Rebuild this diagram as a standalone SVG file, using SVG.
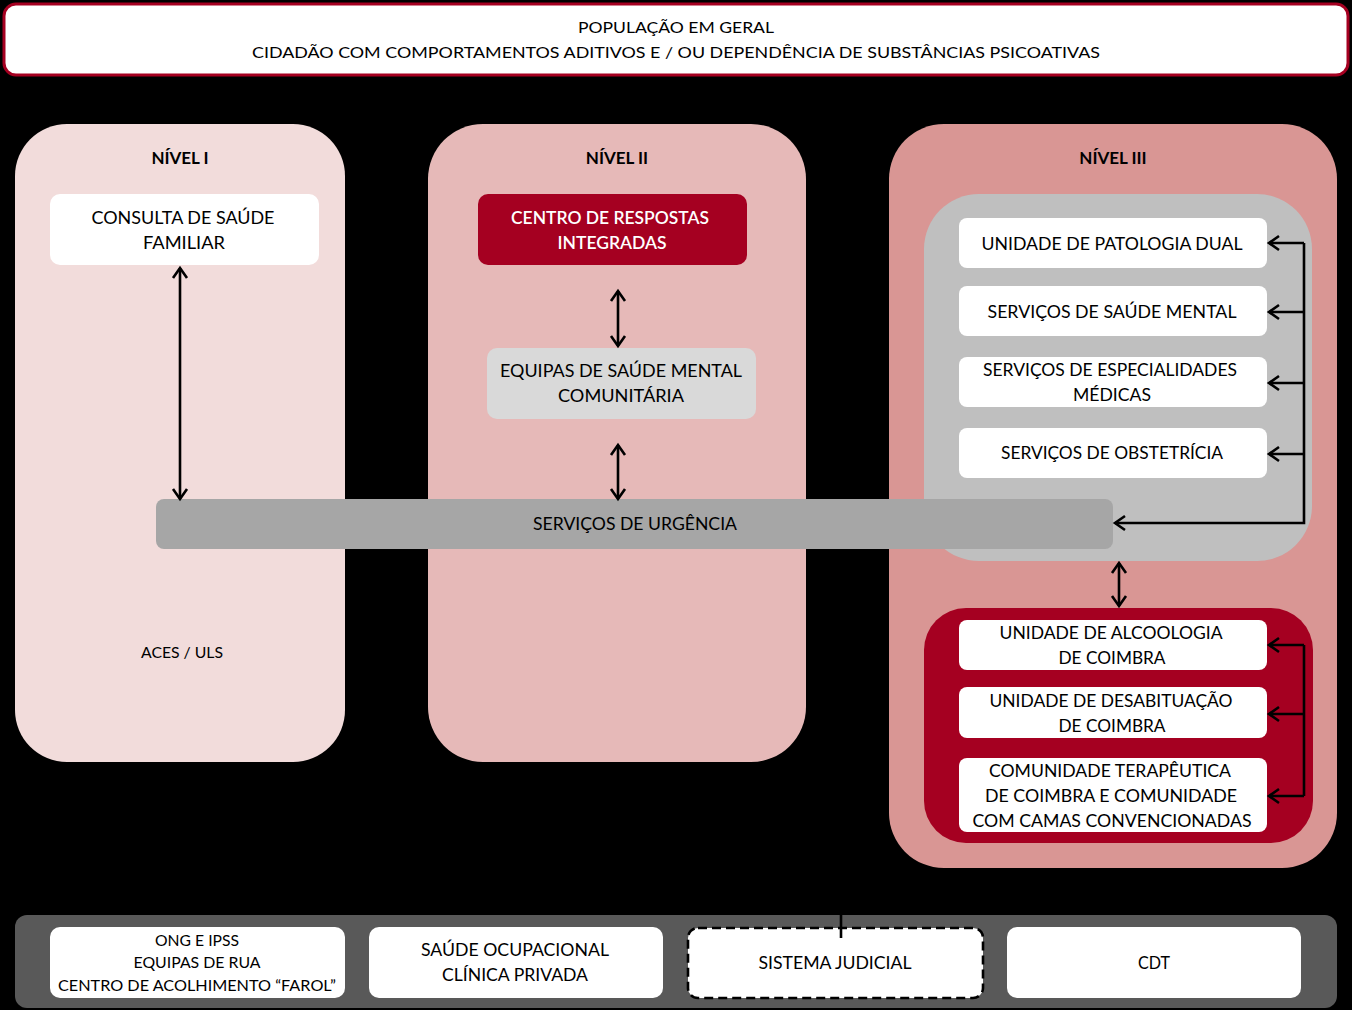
<svg xmlns="http://www.w3.org/2000/svg" width="1352" height="1010" viewBox="0 0 1352 1010">
<defs>
<marker id="ah" markerUnits="userSpaceOnUse" markerWidth="20" markerHeight="20" viewBox="-12 -10 14 20" refX="0" refY="0" orient="auto-start-reverse">
<path d="M-10,-7 L0,0 L-10,7" fill="none" stroke="#000" stroke-width="2.6"/>
</marker>
</defs>
<style>
text{font-family:Lato,"Open Sans","Liberation Sans",sans-serif;font-size:17.5px;fill:#000;text-anchor:middle}
.t{font-weight:bold;font-size:17px}
.w{fill:#fff;font-weight:600}
.s{font-size:16px}
.box{fill:#fff}
.ln{fill:none;stroke:#000;stroke-width:2.6}
.ar{fill:none;stroke:#000;stroke-width:2.6;marker-end:url(#ah)}
.da{fill:none;stroke:#000;stroke-width:2.6;marker-start:url(#ah);marker-end:url(#ah)}
</style>
<rect x="0" y="0" width="1352" height="1010" fill="#000"/>
<g id="populacao">
<rect x="4" y="4" width="1344" height="71" rx="12" fill="#fff" stroke="#A50021" stroke-width="3"/>
<text x="676" y="33" class="s" textLength="196" lengthAdjust="spacingAndGlyphs">POPULAÇÃO EM GERAL</text>
<text x="676" y="58" class="s" textLength="848" lengthAdjust="spacingAndGlyphs">CIDADÃO COM COMPORTAMENTOS ADITIVOS E / OU DEPENDÊNCIA DE SUBSTÂNCIAS  PSICOATIVAS</text>
</g>
<g id="nivel1">
<rect x="15" y="124" width="330" height="638" rx="52" fill="#F2DCDB"/>
<text x="180" y="164" class="t">NÍVEL I</text>
<text x="182" y="658" class="s" textLength="82" lengthAdjust="spacingAndGlyphs">ACES / ULS</text>
</g>
<g id="nivel2">
<rect x="428" y="124" width="378" height="638" rx="55" fill="#E6B9B8"/>
<text x="617" y="164" class="t">NÍVEL II</text>
</g>
<g id="nivel3">
<rect x="889" y="124" width="448" height="744" rx="55" fill="#D99694"/>
<text x="1113" y="164" class="t">NÍVEL III</text>
</g>
<g id="hospital">
<rect x="924" y="194" width="388" height="367" rx="55" fill="#BFBFBF"/>
</g>
<g id="consulta">
<rect x="50" y="194" width="269" height="71" rx="10" class="box"/>
<text x="183" y="224" textLength="183" lengthAdjust="spacingAndGlyphs">CONSULTA DE SAÚDE</text>
<text x="184" y="249" textLength="82" lengthAdjust="spacingAndGlyphs">FAMILIAR</text>
</g>
<g id="cri">
<rect x="478" y="194" width="269" height="71" rx="10" fill="#A50021"/>
<text x="610" y="224" class="w" textLength="198" lengthAdjust="spacingAndGlyphs">CENTRO DE RESPOSTAS</text>
<text x="612" y="249" class="w" textLength="109" lengthAdjust="spacingAndGlyphs">INTEGRADAS</text>
</g>
<g id="equipas">
<rect x="487" y="348" width="269" height="71" rx="10" fill="#D9D9D9"/>
<text x="621" y="377" textLength="242" lengthAdjust="spacingAndGlyphs">EQUIPAS DE SAÚDE MENTAL</text>
<text x="621" y="402" textLength="126" lengthAdjust="spacingAndGlyphs">COMUNITÁRIA</text>
</g>
<g id="urgencia">
<rect x="156" y="499" width="957" height="50" rx="8" fill="#A6A6A6"/>
<text x="635" y="530" textLength="204" lengthAdjust="spacingAndGlyphs">SERVIÇOS DE URGÊNCIA</text>
</g>
<g id="patologia">
<rect x="959" y="218" width="308" height="50" rx="8" class="box"/>
<text x="1112" y="250" textLength="261" lengthAdjust="spacingAndGlyphs">UNIDADE DE PATOLOGIA DUAL</text>
</g>
<g id="saudemental">
<rect x="959" y="286" width="308" height="50" rx="8" class="box"/>
<text x="1112" y="318" textLength="249" lengthAdjust="spacingAndGlyphs">SERVIÇOS DE SAÚDE MENTAL</text>
</g>
<g id="especialidades">
<rect x="959" y="357" width="308" height="50" rx="8" class="box"/>
<text x="1110" y="376" textLength="254" lengthAdjust="spacingAndGlyphs">SERVIÇOS DE ESPECIALIDADES</text>
<text x="1112" y="401" textLength="78" lengthAdjust="spacingAndGlyphs">MÉDICAS</text>
</g>
<g id="obstetricia">
<rect x="959" y="428" width="308" height="50" rx="8" class="box"/>
<text x="1112" y="459" textLength="222" lengthAdjust="spacingAndGlyphs">SERVIÇOS DE OBSTETRÍCIA</text>
</g>
<g id="aditivos">
<rect x="924" y="608" width="389" height="235" rx="42" fill="#A50021"/>
</g>
<g id="alcoologia">
<rect x="959" y="620" width="308" height="50" rx="8" class="box"/>
<text x="1111" y="639" textLength="223" lengthAdjust="spacingAndGlyphs">UNIDADE DE ALCOOLOGIA</text>
<text x="1112" y="664" textLength="107" lengthAdjust="spacingAndGlyphs">DE COIMBRA</text>
</g>
<g id="desabituacao">
<rect x="959" y="687" width="308" height="51" rx="8" class="box"/>
<text x="1111" y="707" textLength="243" lengthAdjust="spacingAndGlyphs">UNIDADE DE DESABITUAÇÃO</text>
<text x="1112" y="732" textLength="107" lengthAdjust="spacingAndGlyphs">DE COIMBRA</text>
</g>
<g id="comunidade">
<rect x="959" y="758" width="308" height="74" rx="8" class="box"/>
<text x="1110" y="777" textLength="242" lengthAdjust="spacingAndGlyphs">COMUNIDADE TERAPÊUTICA</text>
<text x="1111" y="802" textLength="252" lengthAdjust="spacingAndGlyphs">DE COIMBRA E COMUNIDADE</text>
<text x="1112" y="827" textLength="279" lengthAdjust="spacingAndGlyphs">COM CAMAS CONVENCIONADAS</text>
</g>
<g id="outros">
<rect x="15" y="915" width="1322" height="93" rx="12" fill="#595959"/>
</g>
<g id="ong">
<rect x="50" y="927" width="295" height="71" rx="10" class="box"/>
<text x="197" y="946" class="s" textLength="84" lengthAdjust="spacingAndGlyphs">ONG E IPSS</text>
<text x="197" y="968" class="s" textLength="127" lengthAdjust="spacingAndGlyphs">EQUIPAS DE RUA</text>
<text x="197" y="991" class="s" textLength="278" lengthAdjust="spacingAndGlyphs">CENTRO DE ACOLHIMENTO “FAROL”</text>
</g>
<g id="ocupacional">
<rect x="369" y="927" width="294" height="71" rx="10" class="box"/>
<text x="515" y="956" textLength="188" lengthAdjust="spacingAndGlyphs">SAÚDE OCUPACIONAL</text>
<text x="515" y="981" textLength="146" lengthAdjust="spacingAndGlyphs">CLÍNICA PRIVADA</text>
</g>
<g id="judicial">
<rect x="688" y="928" width="295" height="70" rx="10" fill="#fff" stroke="#000" stroke-width="2.6" stroke-dasharray="9,5"/>
<text x="835" y="969" textLength="153" lengthAdjust="spacingAndGlyphs">SISTEMA JUDICIAL</text>
</g>
<g id="cdt">
<rect x="1007" y="927" width="294" height="71" rx="10" class="box"/>
<text x="1154" y="969" textLength="32" lengthAdjust="spacingAndGlyphs">CDT</text>
</g>
<g id="connectors">
<line class="da" x1="180" y1="268" x2="180" y2="499"/>
<line class="da" x1="618" y1="291" x2="618" y2="346"/>
<line class="da" x1="618" y1="445" x2="618" y2="499"/>
<line class="da" x1="1119" y1="563" x2="1119" y2="606"/>
<polyline class="ar" points="1304,243 1304,523 1115,523"/>
<line class="ar" x1="1304" y1="243" x2="1269" y2="243"/>
<line class="ar" x1="1304" y1="312" x2="1269" y2="312"/>
<line class="ar" x1="1304" y1="383" x2="1269" y2="383"/>
<line class="ar" x1="1304" y1="454" x2="1269" y2="454"/>
<line class="ln" x1="1304" y1="645" x2="1304" y2="796"/>
<line class="ar" x1="1304" y1="645" x2="1269" y2="645"/>
<line class="ar" x1="1304" y1="714" x2="1269" y2="714"/>
<line class="ar" x1="1304" y1="796" x2="1269" y2="796"/>
<line class="ln" x1="841" y1="915" x2="841" y2="938"/>
</g>
</svg>
